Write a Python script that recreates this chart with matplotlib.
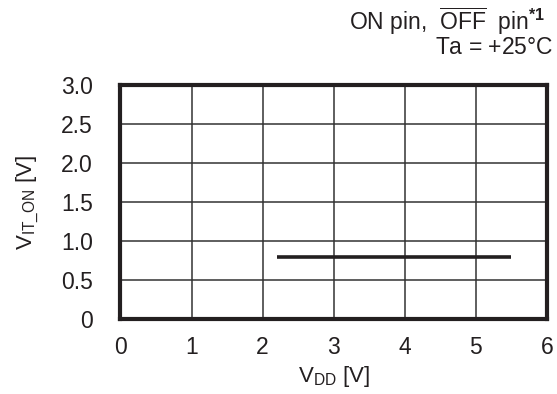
import numpy as np
import matplotlib
matplotlib.use("Agg")
import matplotlib.pyplot as plt

plt.rcParams['font.family'] = ['Liberation Sans', 'DejaVu Sans']
plt.rcParams['mathtext.fontset'] = 'custom'
plt.rcParams['mathtext.rm'] = 'Liberation Sans'
plt.rcParams['mathtext.it'] = 'Liberation Sans:italic'
plt.rcParams['mathtext.bf'] = 'Liberation Sans:bold'

# data
vdd = [2.2, 5.5]
vit_on = [0.8, 0.8]

xticks = [0, 1, 2, 3, 4, 5, 6]
yticks = [0, 0.5, 1.0, 1.5, 2.0, 2.5, 3.0]
ytick_labels = ["0", "0.5", "1.0", "1.5", "2.0", "2.5", "3.0"]

fig = plt.figure(figsize=(5.57, 3.94), dpi=100)
ax = fig.add_axes([0.2163, 0.1904, 0.982 - 0.2163, 0.784 - 0.1904])

ax.plot(vdd, vit_on, color='#231f20', lw=2.6, solid_capstyle='butt')

ax.set_xlim(0, 6)
ax.set_ylim(0, 3)
ax.set_xticks(xticks)
ax.set_yticks(yticks)
ax.set_yticklabels(ytick_labels)
ax.grid(True, color='#333333', lw=1.1)
ax.set_axisbelow(True)
ax.tick_params(length=0, labelsize=16.5, colors='#231f20')
ax.tick_params(axis='x', pad=12)
ax.tick_params(axis='y', pad=20)
for s in ax.spines.values():
    s.set_linewidth(3)
    s.set_color('#231f20')

ax.set_xlabel(r"V$_{\mathrm{DD}}$ [V]", fontsize=16, color='#231f20', labelpad=4)
ax.set_ylabel(r"V$_{\mathrm{IT\_ON}}$ [V]", fontsize=16, color='#231f20', labelpad=14)

fig.text(0.978, 1 - 30 / 394, r"ON pin,  $\overline{\mathrm{OFF}}$  pin$^{\mathbf{*1}}$",
         ha='right', va='baseline', fontsize=16.5, color='#231f20')
fig.text(0.993, 1 - 54 / 394, r"Ta = $+$25°C",
         ha='right', va='baseline', fontsize=16.5, color='#231f20')

fig.savefig("out.png", dpi=100)
